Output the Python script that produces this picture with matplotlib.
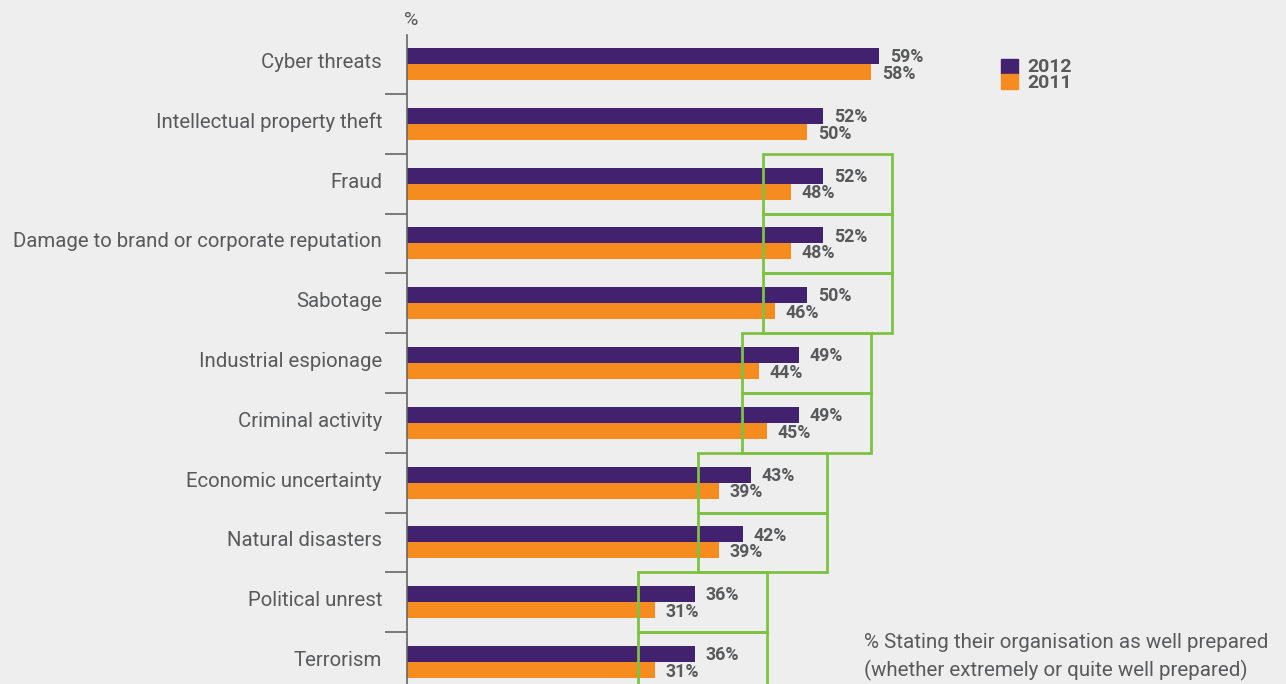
import matplotlib
matplotlib.use("Agg")
import matplotlib.pyplot as plt
from matplotlib.patches import Rectangle
from matplotlib.transforms import offset_copy

# Risk categories, top to bottom
categories = [
    "Cyber threats",
    "Intellectual property theft",
    "Fraud",
    "Damage to brand or corporate reputation",
    "Sabotage",
    "Industrial espionage",
    "Criminal activity",
    "Economic uncertainty",
    "Natural disasters",
    "Political unrest",
    "Terrorism",
]
values_2012 = [59, 52, 52, 52, 50, 49, 49, 43, 42, 36, 36]
values_2011 = [58, 50, 48, 48, 46, 44, 45, 39, 39, 31, 31]

# Green outline cells marking the "well prepared" groups (row index, left edge in %)
prepared_rows = [2, 3, 4, 5, 6, 7, 8, 9, 10]
prepared_left = [44.5, 44.5, 44.5, 41.9, 41.9, 36.4, 36.4, 28.9, 28.9]
prepared_width = 16.1

PURPLE = "#42216f"
ORANGE = "#f68b1f"
GREEN = "#7dc242"
TEXT = "#58595b"
BG = "#eeeeee"
FONT = ["Roboto", "DejaVu Sans"]

W, H = 1286, 684
fig = plt.figure(figsize=(W / 100, H / 100), dpi=100, facecolor=BG)

ax_left, ax_top = 407, 35
ax = fig.add_axes([ax_left / W, 0, (W - ax_left) / W, (H - ax_top) / H])
ax.set_facecolor(BG)

px_per_pct = 8.0
row_px = 59.8
first_center = 64
ax.set_xlim(0, (W - ax_left) / px_per_pct)
ax.set_ylim((H - first_center) / row_px, (ax_top - first_center) / row_px)

bar_h = 16 / row_px
ys = list(range(len(categories)))
ax.barh([y - bar_h / 2 for y in ys], values_2012, height=bar_h, color=PURPLE, zorder=2)
ax.barh([y + bar_h / 2 for y in ys], values_2011, height=bar_h, color=ORANGE, zorder=2)

label_font = dict(family=FONT, fontsize=12.8, fontweight="bold",
                  color=TEXT, va="center", ha="left")
off = 11 / px_per_pct
for y, v12, v11 in zip(ys, values_2012, values_2011):
    ax.text(v12 + off, y - bar_h / 2 + 0.02, f"{v12}%", **label_font, zorder=4)
    ax.text(v11 + off, y + bar_h / 2 + 0.03, f"{v11}%", **label_font, zorder=4)

for r, left in zip(prepared_rows, prepared_left):
    ax.add_patch(Rectangle((left, r - 0.5), prepared_width, 1.0, fill=False,
                           edgecolor=GREEN, linewidth=2, zorder=3, clip_on=False))

# Axis styling
for s in ["top", "right", "bottom"]:
    ax.spines[s].set_visible(False)
ax.spines["left"].set_color("#666666")
ax.spines["left"].set_linewidth(1.2)
ax.set_xticks([])
ax.set_yticks([])
ax.set_yticks([y + 0.5 for y in ys[:-1]], minor=True)
ax.tick_params(axis="y", which="minor", length=16, width=1.2, color="#666666")

# Category labels, right-aligned left of the axis
cat_tr = offset_copy(ax.get_yaxis_transform(), fig=fig, x=-25, y=1.5, units="dots")
for y, name in zip(ys, categories):
    ax.text(0, y, name, transform=cat_tr, family=FONT, fontsize=14.7, color=TEXT,
            ha="right", va="center")

fig.text(411 / W, 1 - 20 / H, "%", family=FONT, fontsize=14,
         color=TEXT, ha="center", va="center")

# Legend
fig.patches.append(Rectangle((1001 / W, 1 - 74 / H), 17 / W, 15 / H, color=PURPLE,
                             transform=fig.transFigure, figure=fig))
fig.patches.append(Rectangle((1001 / W, 1 - 89 / H), 17 / W, 15 / H, color=ORANGE,
                             transform=fig.transFigure, figure=fig))
fig.text(1027 / W, 1 - 67 / H, "2012", family=FONT, fontsize=14,
         fontweight="bold", color=TEXT, ha="left", va="center")
fig.text(1027 / W, 1 - 83 / H, "2011", family=FONT, fontsize=14,
         fontweight="bold", color=TEXT, ha="left", va="center")

fig.text(864 / W, 1 - 643 / H, "% Stating their organisation as well prepared",
         family=FONT, fontsize=14.8, color=TEXT, ha="left", va="center")
fig.text(864 / W, 1 - 670 / H, "(whether extremely or quite well prepared)",
         family=FONT, fontsize=14.8, color=TEXT, ha="left", va="center")

fig.savefig("out.png", dpi=100, facecolor=BG)
